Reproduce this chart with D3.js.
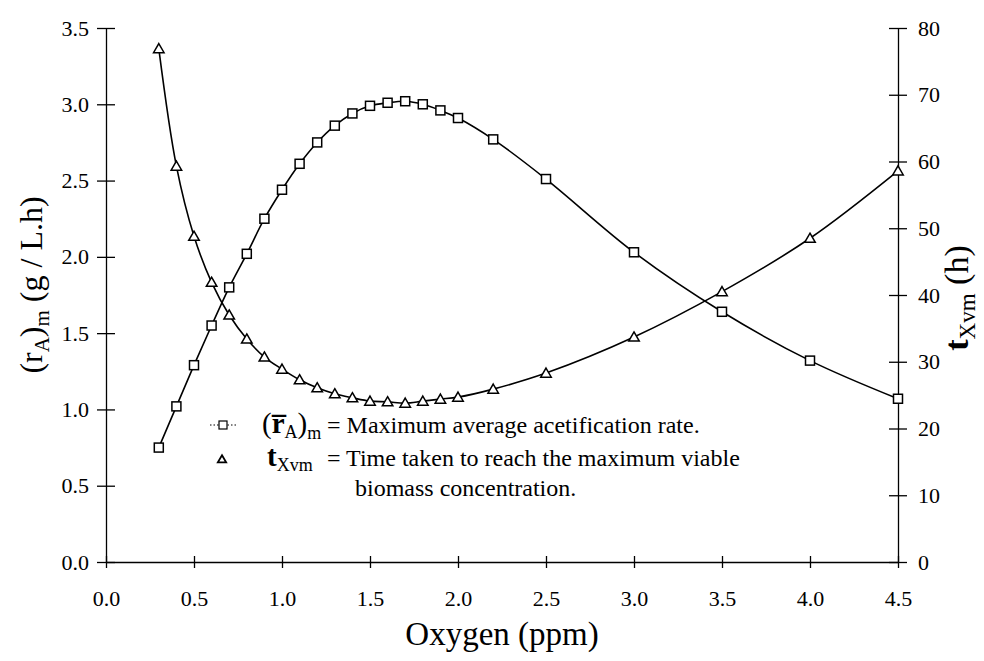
<!DOCTYPE html>
<html lang="en">
<head>
    <meta charset="UTF-8">
    <title>Oxygen chart</title>
    <script src="https://d3js.org/d3.v7.min.js"></script>
    <style>
        body { margin: 0; background: #fff; }
        .axis path, .axis line { stroke: #000; stroke-width: 1.3px; }
    </style>
</head>
<body>
    <div class="canvas"></div>
    <script>
      // oxygen concentration (ppm)
      const oxygen = [0.3, 0.4, 0.5, 0.6, 0.7, 0.8, 0.9, 1.0, 1.1, 1.2, 1.3, 1.4,
                      1.5, 1.6, 1.7, 1.8, 1.9, 2.0, 2.2, 2.5, 3.0, 3.5, 4.0, 4.5];
      // maximum average acetification rate (g/L.h), left axis
      const rateA = [0.75, 1.02, 1.29, 1.55, 1.80, 2.02, 2.25, 2.44, 2.61, 2.75, 2.86, 2.94,
                     2.99, 3.01, 3.02, 3.00, 2.96, 2.91, 2.77, 2.51, 2.03, 1.64, 1.32, 1.07];
      // time to reach max viable biomass (h), right axis
      const tXvm = [76.9, 59.3, 48.8, 41.9, 37.0, 33.4, 30.7, 28.9, 27.3, 26.1, 25.2, 24.6,
                    24.1, 24.0, 23.8, 24.1, 24.4, 24.7, 25.9, 28.3, 33.7, 40.5, 48.5, 58.6];
      const xTicks = [0, 0.5, 1, 1.5, 2, 2.5, 3, 3.5, 4, 4.5];
      const leftTicks = [0, 0.5, 1, 1.5, 2, 2.5, 3, 3.5];
      const rightTicks = [0, 10, 20, 30, 40, 50, 60, 70, 80];

      const FONT = '"Liberation Serif", "Times New Roman", "DejaVu Serif", serif';
      const width = 984;
      const height = 661;
      const [ml, mr, mt, mb] = [106, 898, 28, 562];

      const svg = d3.select('.canvas')
                    .append('svg')
                    .attr('width', width)
                    .attr('height', height)
                    .attr('font-family', FONT);

      const x = d3.scaleLinear().domain([0, 4.5]).range([ml, mr]);
      const yL = d3.scaleLinear().domain([0, 3.5]).range([mb, mt]);
      const yR = d3.scaleLinear().domain([0, 80]).range([mb, mt]);

      // axes - ticks cross the axis line
      const xAxisG = svg.append('g').attr('class', 'axis')
                        .attr('transform', `translate(0, ${mb})`)
                        .call(d3.axisBottom(x).tickValues(xTicks).tickFormat(d3.format('.1f'))
                                .tickSizeInner(6).tickSizeOuter(0).tickPadding(22));
      xAxisG.selectAll('.tick line').attr('y1', -6);

      const yLG = svg.append('g').attr('class', 'axis')
                     .attr('transform', `translate(${ml}, 0)`)
                     .call(d3.axisLeft(yL).tickValues(leftTicks).tickFormat(d3.format('.1f'))
                             .tickSizeInner(9).tickSizeOuter(0).tickPadding(8));
      yLG.selectAll('.tick line').attr('x2', 9).attr('x1', -9);

      const yRG = svg.append('g').attr('class', 'axis')
                     .attr('transform', `translate(${mr}, 0)`)
                     .call(d3.axisRight(yR).tickValues(rightTicks)
                             .tickSizeInner(9).tickSizeOuter(0).tickPadding(11));
      yRG.selectAll('.tick line').attr('x1', -9);

      svg.selectAll('.axis')
         .attr('font-family', FONT)
         .attr('font-size', 22);
      svg.selectAll('.axis text').attr('fill', '#000');

      const rows = oxygen.map((o, i) => ({ o, r: rateA[i], t: tXvm[i] }));

      const lineR = d3.line().x(d => x(d.o)).y(d => yL(d.r)).curve(d3.curveCatmullRom);
      const lineT = d3.line().x(d => x(d.o)).y(d => yR(d.t)).curve(d3.curveCatmullRom);

      svg.append('path').attr('d', lineR(rows))
         .attr('fill', 'none').attr('stroke', '#000').attr('stroke-width', 1.6);
      svg.append('path').attr('d', lineT(rows))
         .attr('fill', 'none').attr('stroke', '#000').attr('stroke-width', 1.6);

      const sq = 9;
      svg.selectAll('rect.sq').data(rows).enter()
         .append('rect')
         .attr('class', 'sq')
         .attr('x', d => x(d.o) - sq / 2)
         .attr('y', d => yL(d.r) - sq / 2)
         .attr('width', sq).attr('height', sq)
         .attr('fill', '#fff').attr('stroke', '#000').attr('stroke-width', 1.5);

      const tri = d3.symbol().type(d3.symbolTriangle).size(48);
      svg.selectAll('path.tri').data(rows).enter()
         .append('path')
         .attr('class', 'tri')
         .attr('d', tri)
         .attr('transform', d => `translate(${x(d.o)}, ${yR(d.t) + 1})`)
         .attr('fill', '#fff').attr('stroke', '#000').attr('stroke-width', 1.5);

      // axis titles
      svg.append('text')
         .attr('x', (ml + mr) / 2).attr('y', 645)
         .attr('text-anchor', 'middle')
         .attr('font-size', 33)
         .text('Oxygen (ppm)');

      const leftTitle = svg.append('text')
         .attr('transform', `translate(42, ${(mt + mb) / 2 - 10}) rotate(-90)`)
         .attr('text-anchor', 'middle')
         .attr('font-size', 32);
      leftTitle.append('tspan').text('(r');
      leftTitle.append('tspan').attr('dy', 7).attr('font-size', 21).text('A');
      leftTitle.append('tspan').attr('dy', -7).text(')');
      leftTitle.append('tspan').attr('dy', 7).attr('font-size', 21).text('m');
      leftTitle.append('tspan').attr('dy', -7).text(' (g / L.h)');

      const rightTitle = svg.append('text')
         .attr('transform', `translate(968, ${(mt + mb) / 2 + 3}) rotate(-90)`)
         .attr('text-anchor', 'middle')
         .attr('font-size', 34);
      rightTitle.append('tspan').attr('font-weight', 'bold').text('t');
      rightTitle.append('tspan').attr('dy', 7).attr('font-size', 23).text('Xvm');
      rightTitle.append('tspan').attr('dy', -7).text(' (h)');

      // legend
      const lg = svg.append('g');
      lg.append('line').attr('x1', 210).attr('x2', 236).attr('y1', 425).attr('y2', 425)
        .attr('stroke', '#000').attr('stroke-width', 1).attr('stroke-dasharray', '1.5,2');
      lg.append('rect').attr('x', 219).attr('y', 421).attr('width', 8).attr('height', 8)
        .attr('fill', '#fff').attr('stroke', '#000').attr('stroke-width', 1.2);
      lg.append('path').attr('d', d3.symbol().type(d3.symbolTriangle).size(30))
        .attr('transform', 'translate(222, 460)')
        .attr('fill', '#fff').attr('stroke', '#000').attr('stroke-width', 1.8);

      const l1 = lg.append('text').attr('x', 262).attr('y', 433).attr('font-size', 24);
      l1.append('tspan').attr('font-size', 29).text('(');
      l1.append('tspan').attr('font-size', 29).attr('font-weight', 'bold').text('r\u0305');
      l1.append('tspan').attr('dy', 5).attr('font-size', 18).text('A');
      l1.append('tspan').attr('dy', -5).attr('font-size', 29).text(')');
      l1.append('tspan').attr('dy', 6).attr('font-size', 18).text('m');
      l1.append('tspan').attr('x', 327).attr('dy', -6).text('= Maximum average acetification rate.');

      const l2 = lg.append('text').attr('x', 267).attr('y', 466).attr('font-size', 24);
      l2.append('tspan').attr('font-size', 29).attr('font-weight', 'bold').text('t');
      l2.append('tspan').attr('dy', 5).attr('font-size', 18).text('Xvm');
      l2.append('tspan').attr('x', 327).attr('dy', -5).text('= Time taken to reach the maximum viable');

      lg.append('text').attr('x', 355).attr('y', 496).attr('font-size', 24)
        .text('biomass concentration.');
    </script>
</body>
</html>
